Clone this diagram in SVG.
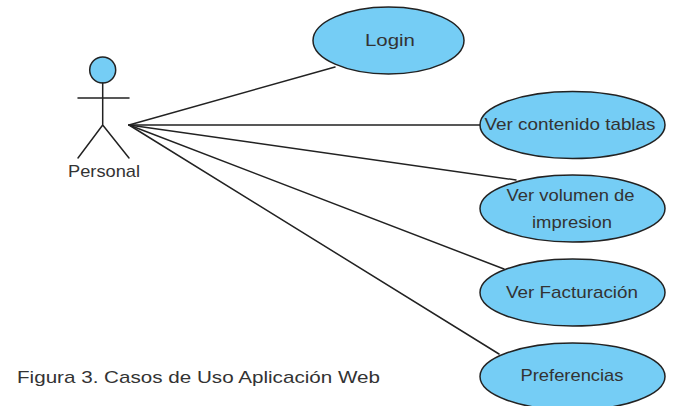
<svg xmlns="http://www.w3.org/2000/svg" width="675" height="406" viewBox="0 0 675 406">
<style>
.line{stroke:#222;stroke-width:1.5;fill:none;stroke-linecap:round}
.uc{fill:#75cdf5;stroke:#222;stroke-width:1.5}
text{font-family:"Liberation Sans",Arial,sans-serif;font-size:17px;fill:#333;text-anchor:middle}
</style>
<rect width="675" height="406" fill="#fff"/>
<g id="connectors">
<line class="line" x1="129" y1="125" x2="335" y2="67"/>
<line class="line" x1="129" y1="125" x2="481" y2="125"/>
<line class="line" x1="129" y1="125" x2="516" y2="180"/>
<line class="line" x1="129" y1="125" x2="504" y2="269"/>
<line class="line" x1="129" y1="125" x2="499" y2="354"/>
</g>
<g id="actor-personal">
<circle cx="102.7" cy="70" r="13" class="uc"/>
<path class="line" d="M102.7 83V125M78 98H129M78 158L102.7 125L129 158"/>
<text x="104" y="177" textLength="72" lengthAdjust="spacingAndGlyphs">Personal</text>
</g>
<g id="uc-login"><ellipse class="uc" cx="388.5" cy="40.5" rx="75.5" ry="33.5"/><text x="390" y="46" textLength="50" lengthAdjust="spacingAndGlyphs">Login</text></g>
<g id="uc-contenido"><ellipse class="uc" cx="572.5" cy="125" rx="92.5" ry="33.5"/><text x="570" y="130" textLength="171" lengthAdjust="spacingAndGlyphs">Ver contenido tablas</text></g>
<g id="uc-volumen"><ellipse class="uc" cx="572.5" cy="208.5" rx="92.5" ry="33.5"/><text x="570.5" y="201" textLength="128" lengthAdjust="spacingAndGlyphs">Ver volumen de</text><text x="572" y="228" textLength="80" lengthAdjust="spacingAndGlyphs">impresion</text></g>
<g id="uc-facturacion"><ellipse class="uc" cx="572.5" cy="292.5" rx="92.5" ry="33.5"/><text x="572" y="298" textLength="132" lengthAdjust="spacingAndGlyphs">Ver Facturación</text></g>
<g id="uc-preferencias"><ellipse class="uc" cx="572.5" cy="376.5" rx="92.5" ry="33.5"/><text x="572" y="381" textLength="103" lengthAdjust="spacingAndGlyphs">Preferencias</text></g>
<text x="198.5" y="383" textLength="363" lengthAdjust="spacingAndGlyphs">Figura 3. Casos de Uso Aplicación Web</text>
</svg>
